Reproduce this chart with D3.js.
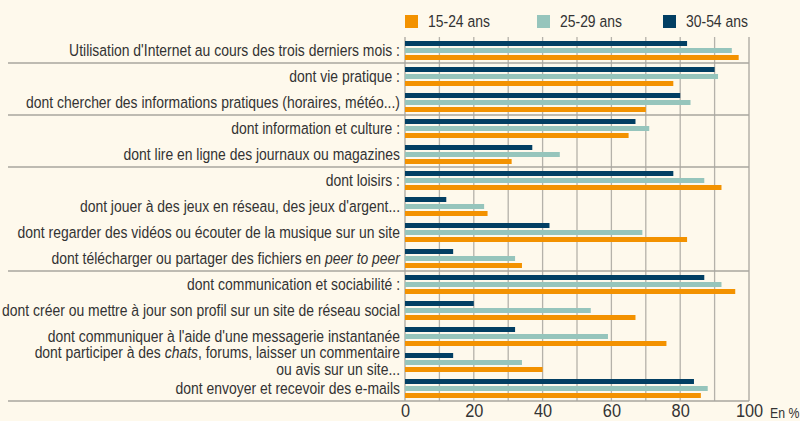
<!DOCTYPE html>
<html>
<head>
<meta charset="utf-8">
<script src="https://cdn.jsdelivr.net/npm/d3@7"></script>
<style>
  html, body { margin: 0; padding: 0; background: #fef9ec; }
  svg { display: block; }
  text { font-family: "Liberation Sans", Arial, sans-serif; fill: #333; }
</style>
</head>
<body>
<div id="plot_area"></div>
<script>
// rows, top to bottom ("*" = italic, "\n" = new line)
var labels = [
  "Utilisation d'Internet au cours des trois derniers mois :",
  "dont vie pratique :",
  "dont chercher des informations pratiques (horaires, météo...)",
  "dont information et culture :",
  "dont lire en ligne des journaux ou magazines",
  "dont loisirs :",
  "dont jouer à des jeux en réseau, des jeux d'argent...",
  "dont regarder des vidéos ou écouter de la musique sur un site",
  "dont télécharger ou partager des fichiers en *peer to peer*",
  "dont communication et sociabilité :",
  "dont créer ou mettre à jour son profil sur un site de réseau social",
  "dont communiquer à l'aide d'une messagerie instantanée",
  "dont participer à des *chats*, forums, laisser un commentaire\nou avis sur un site...",
  "dont envoyer et recevoir des e-mails"
]

var series = ["15-24 ans", "25-29 ans", "30-54 ans"]

var v15_24 = [97, 78, 70, 65, 31, 92, 24, 82, 34, 96, 67, 76, 40, 86]
var v25_29 = [95, 91, 83, 71, 45, 87, 23, 69, 32, 92, 54, 59, 34, 88]
var v30_54 = [82, 90, 80, 67, 37, 78, 12, 42, 14, 87, 20, 32, 14, 84]

// a line is drawn under these rows
var groupEnds = [0, 2, 4, 8, 13]

var xTicks = [0, 20, 40, 60, 80, 100]

var color = {"15-24 ans": "#f39200", "25-29 ans": "#96c5bc", "30-54 ans": "#023f63"}

var width = 800, height = 421
var margin = {top: 37, left: 405, right: 51, bottom: 20}
var narrow = "scale(0.82,1)"   // no condensed font installed, so squeeze

var svg = d3.select("#plot_area").append("svg")
  .attr("width", width)
  .attr("height", height)

var x = d3.scaleLinear()
  .domain([0, 100])
  .range([margin.left, width - margin.right])

var y = d3.scaleBand()
  .domain(d3.range(labels.length))
  .range([margin.top, margin.top + 26 * labels.length])

// navy on top, orange at the bottom
var ySub = d3.scaleBand()
  .domain(["30-54 ans", "25-29 ans", "15-24 ans"])
  .range([4, y.bandwidth() - 3])
  .paddingInner(2 / 7)

var yBottom = y.range()[1]

// vertical grid
svg.append("g")
  .selectAll("line")
  .data(d3.range(0, 101, 10))
  .enter().append("line")
  .attr("x1", function(d) { return x(d) }).attr("x2", function(d) { return x(d) })
  .attr("y1", margin.top).attr("y2", yBottom)
  .attr("stroke", function(d) { return (d === 0 || d === 100) ? "#a9a69f" : "#b5b2aa" })
  .attr("stroke-width", 1.3)

// group separators
svg.append("g")
  .selectAll("line")
  .data(groupEnds)
  .enter().append("line")
  .attr("x1", 8).attr("x2", x(100))
  .attr("y1", function(d) { return y(d) + y.bandwidth() }).attr("y2", function(d) { return y(d) + y.bandwidth() })
  .attr("stroke", "#a9a69f")
  .attr("stroke-width", 1.3)

// bars
var rows = labels.map(function(l, i) {
  return {i: i, values: [
    {key: "30-54 ans", v: v30_54[i]},
    {key: "25-29 ans", v: v25_29[i]},
    {key: "15-24 ans", v: v15_24[i]}
  ]}
})

var rowG = svg.append("g").selectAll("g")
  .data(rows)
  .enter().append("g")
  .attr("transform", function(d) { return "translate(0," + y(d.i) + ")" })

rowG.selectAll("rect")
  .data(function(d) { return d.values })
  .enter().append("rect")
  .attr("x", x(0))
  .attr("y", function(d) { return ySub(d.key) })
  .attr("width", function(d) { return x(d.v) - x(0) })
  .attr("height", ySub.bandwidth())
  .attr("fill", function(d) { return color[d.key] })

// row labels
var lab = svg.append("g").selectAll("text")
  .data(labels)
  .enter().append("text")
  .attr("text-anchor", "end")
  .style("font-size", "17px")
  .attr("transform", function(d, i) { return "translate(" + (x(0) - 5) + "," + (y(i) + y.bandwidth() / 2) + ")" + narrow })

lab.each(function(d) {
  var t = d3.select(this)
  var lines = d.split("\n")
  lines.forEach(function(line, li) {
    var parts = line.split("*")
    parts.forEach(function(p, pi) {
      if (!p) return
      var ts = t.append("tspan").text(p)
      if (pi === 0) ts.attr("x", 0).attr("y", lines.length > 1 ? -4.5 + li * 17 : 6)
      if (pi % 2 === 1) ts.style("font-style", "italic")
    })
  })
})

// x axis labels
var xAxis = svg.append("g")
  .attr("transform", "translate(0," + yBottom + ")")
  .call(d3.axisBottom(x).tickValues(xTicks).tickSize(0).tickPadding(2.5))
xAxis.select(".domain").remove()
xAxis.selectAll("text")
  .style("font-size", "19px")
  .attr("font-family", null)
  .attr("fill", null)
  .attr("dy", "0.71em")
  .attr("transform", "scale(0.86,1)")

svg.append("text")
  .attr("transform", "translate(770,417.5)" + narrow)
  .style("font-size", "15px")
  .text("En %")

// legend
var legX = [405, 537, 663]
var leg = svg.append("g").selectAll("g")
  .data(series)
  .enter().append("g")
  .attr("transform", function(d, i) { return "translate(" + legX[i] + ",15)" })

leg.append("rect")
  .attr("width", 13).attr("height", 13)
  .attr("fill", function(d) { return color[d] })

leg.append("text")
  .attr("transform", "translate(23,12)" + narrow)
  .style("font-size", "17px")
  .text(function(d) { return d })
</script>
</body>
</html>
